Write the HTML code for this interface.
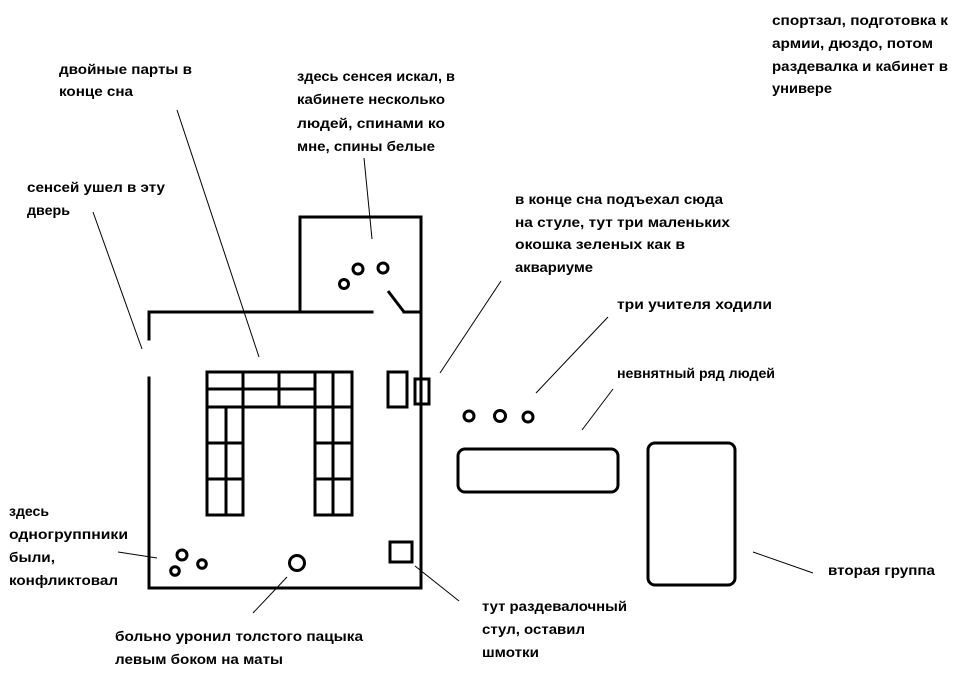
<!DOCTYPE html>
<html><head><meta charset="utf-8"><style>
html,body{margin:0;padding:0;background:#fff;}
svg{display:block;}
text{font-family:"Liberation Sans","DejaVu Sans",sans-serif;font-weight:bold;font-size:13.5px;fill:#000;}
</style></head><body>
<svg width="968" height="685" viewBox="0 0 968 685" xmlns="http://www.w3.org/2000/svg">
<rect width="968" height="685" fill="#fff"/>
<g fill="none" stroke="#000" stroke-width="3" stroke-linecap="square">
  <!-- upper room -->
  <polyline points="300,312 300,217 421,217 421,588"/>
  <!-- main room top wall -->
  <line x1="149" y1="312" x2="372" y2="312"/>
  <line x1="404" y1="312" x2="421" y2="312"/>
  <line x1="388" y1="291" x2="404" y2="312" stroke-linecap="butt"/>
  <!-- left wall with door gap -->
  <line x1="149" y1="312" x2="149" y2="339"/>
  <line x1="149" y1="378" x2="149" y2="588"/>
  <!-- bottom wall -->
  <line x1="149" y1="588" x2="421" y2="588"/>
  <!-- desks -->
  <rect x="207" y="372" width="145" height="35"/>
  <line x1="207" y1="389" x2="315" y2="389"/>
  <line x1="243" y1="372" x2="243" y2="407"/>
  <line x1="279" y1="372" x2="279" y2="407"/>
  <line x1="315" y1="372" x2="315" y2="515"/>
  <line x1="333" y1="372" x2="333" y2="515"/>
  <rect x="207" y="407" width="36" height="108"/>
  <line x1="226" y1="407" x2="226" y2="515"/>
  <line x1="207" y1="443" x2="243" y2="443"/>
  <line x1="207" y1="479" x2="243" y2="479"/>
  <rect x="315" y="407" width="37" height="108"/>
  <line x1="315" y1="443" x2="352" y2="443"/>
  <line x1="315" y1="479" x2="352" y2="479"/>
  <!-- small rect near right wall -->
  <rect x="388" y="372" width="19" height="35"/>
  <!-- window on wall -->
  <rect x="415" y="379" width="14" height="25"/>
  <!-- chair -->
  <rect x="390" y="542" width="22" height="20"/>
  <!-- rounded rects -->
  <rect x="458" y="449" width="160" height="43" rx="7" ry="7"/>
  <rect x="648" y="443" width="87" height="142" rx="7" ry="7"/>
  <!-- circles -->
  <circle cx="358" cy="269" r="5"/>
  <circle cx="383" cy="268" r="5"/>
  <circle cx="344" cy="284" r="4.5"/>
  <circle cx="182" cy="555" r="5"/>
  <circle cx="175" cy="571" r="4.3"/>
  <circle cx="202" cy="564" r="4.3"/>
  <circle cx="297" cy="563" r="7.5"/>
  <circle cx="469" cy="416" r="5"/>
  <circle cx="500" cy="416" r="5.5"/>
  <circle cx="528" cy="417" r="5"/>
</g>
<g stroke="#000" stroke-width="1" fill="none">
  <line x1="177" y1="110" x2="259" y2="357"/>
  <line x1="364" y1="158" x2="372" y2="239"/>
  <line x1="93" y1="212" x2="142" y2="349"/>
  <line x1="501" y1="281" x2="440" y2="373"/>
  <line x1="608" y1="317" x2="536" y2="393"/>
  <line x1="613" y1="389" x2="582" y2="430"/>
  <line x1="753" y1="552" x2="813" y2="573"/>
  <line x1="415" y1="566" x2="459" y2="601"/>
  <line x1="118" y1="552" x2="157" y2="558"/>
  <line x1="287" y1="577" x2="253" y2="613"/>
</g>
<g>
  <text x="772" y="25" textLength="176" lengthAdjust="spacingAndGlyphs">спортзал, подготовка к</text>
  <text x="772" y="48" textLength="161" lengthAdjust="spacingAndGlyphs">армии, дюздо, потом</text>
  <text x="772" y="71" textLength="176" lengthAdjust="spacingAndGlyphs">раздевалка и кабинет в</text>
  <text x="772" y="93" textLength="60" lengthAdjust="spacingAndGlyphs">универе</text>

  <text x="59" y="74" textLength="133" lengthAdjust="spacingAndGlyphs">двойные парты в</text>
  <text x="59" y="96" textLength="74" lengthAdjust="spacingAndGlyphs">конце сна</text>

  <text x="297" y="81" textLength="158" lengthAdjust="spacingAndGlyphs">здесь сенсея искал, в</text>
  <text x="297" y="104" textLength="148" lengthAdjust="spacingAndGlyphs">кабинете несколько</text>
  <text x="297" y="128" textLength="148" lengthAdjust="spacingAndGlyphs">людей, спинами ко</text>
  <text x="297" y="151" textLength="138" lengthAdjust="spacingAndGlyphs">мне, спины белые</text>

  <text x="27" y="192" textLength="138" lengthAdjust="spacingAndGlyphs">сенсей ушел в эту</text>
  <text x="27" y="215" textLength="43" lengthAdjust="spacingAndGlyphs">дверь</text>

  <text x="515" y="204" textLength="208" lengthAdjust="spacingAndGlyphs">в конце сна подъехал сюда</text>
  <text x="515" y="227" textLength="215" lengthAdjust="spacingAndGlyphs">на стуле, тут три маленьких</text>
  <text x="515" y="249" textLength="170" lengthAdjust="spacingAndGlyphs">окошка зеленых как в</text>
  <text x="515" y="272" textLength="78" lengthAdjust="spacingAndGlyphs">аквариуме</text>

  <text x="617" y="309" textLength="155" lengthAdjust="spacingAndGlyphs">три учителя ходили</text>
  <text x="617" y="378" textLength="158" lengthAdjust="spacingAndGlyphs">невнятный ряд людей</text>

  <text x="828" y="575" textLength="107" lengthAdjust="spacingAndGlyphs">вторая группа</text>

  <text x="482" y="611" textLength="145" lengthAdjust="spacingAndGlyphs">тут раздевалочный</text>
  <text x="482" y="634" textLength="103" lengthAdjust="spacingAndGlyphs">стул, оставил</text>
  <text x="482" y="657" textLength="57" lengthAdjust="spacingAndGlyphs">шмотки</text>

  <text x="9" y="516" textLength="40" lengthAdjust="spacingAndGlyphs">здесь</text>
  <text x="9" y="539" textLength="119" lengthAdjust="spacingAndGlyphs">одногруппники</text>
  <text x="9" y="562" textLength="46" lengthAdjust="spacingAndGlyphs">были,</text>
  <text x="9" y="585" textLength="109" lengthAdjust="spacingAndGlyphs">конфликтовал</text>

  <text x="115" y="641" textLength="248" lengthAdjust="spacingAndGlyphs">больно уронил толстого пацыка</text>
  <text x="115" y="664" textLength="168" lengthAdjust="spacingAndGlyphs">левым боком на маты</text>
</g>
</svg>
</body></html>
